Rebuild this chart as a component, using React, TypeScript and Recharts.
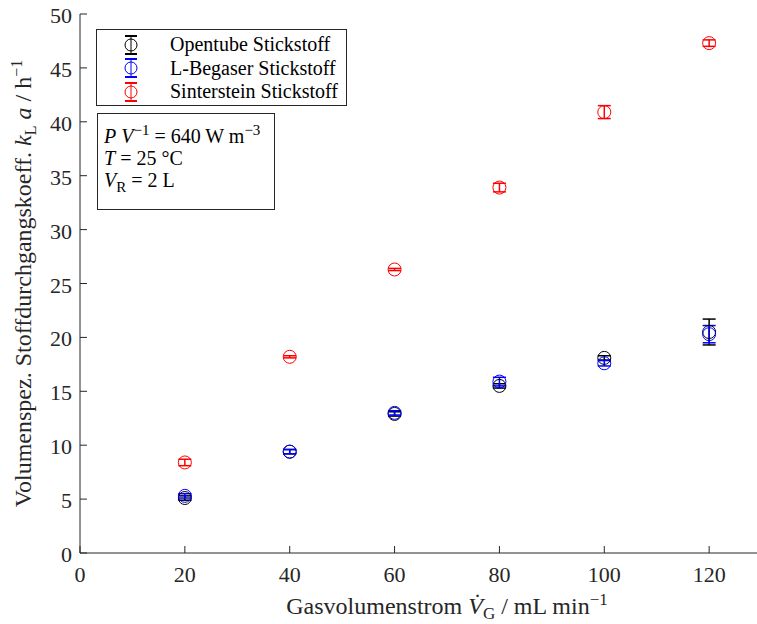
import { ScatterChart, Scatter, XAxis, YAxis, ErrorBar, Legend } from "recharts";

const flowRates = [20, 40, 60, 80, 100, 120];
const opentubeKla = [5.1, 9.4, 12.9, 15.5, 18.1, 20.5];
const opentubeErr = [0.2, 0.2, 0.2, 0.2, 0.2, 1.2];
const begaserKla = [5.3, 9.4, 13.0, 15.9, 17.6, 20.3];
const begaserErr = [0.2, 0.2, 0.2, 0.4, 0.25, 0.8];
const sinterKla = [8.4, 18.2, 26.3, 33.9, 40.9, 47.3];
const sinterErr = [0.3, 0.1, 0.1, 0.4, 0.6, 0.3];

// axis runs to 140, but the picture is cut at ~129 so the last tick is left out
const xTicks = [0, 20, 40, 60, 80, 100, 120];
const yTicks = [0, 5, 10, 15, 20, 25, 30, 35, 40, 45, 50];

const AXIS = "#262626";
const FONT = "'Liberation Serif', serif";

const series = [
  { name: "Opentube Stickstoff", color: "#000000", values: opentubeKla, errors: opentubeErr },
  { name: "L-Begaser Stickstoff", color: "#0000ff", values: begaserKla, errors: begaserErr },
  { name: "Sinterstein Stickstoff", color: "#ff0000", values: sinterKla, errors: sinterErr },
];

function BottomTick({ x, y, payload }: any) {
  return (
    <g>
      <line x1={x} x2={x} y1={y} y2={y - 7} stroke={AXIS} />
      <text x={x} y={y + 29} textAnchor="middle" fontFamily={FONT} fontSize={22} fill={AXIS}>
        {payload.value}
      </text>
    </g>
  );
}

function TopTick({ x, y }: any) {
  return <line x1={x} x2={x} y1={y} y2={y + 7} stroke={AXIS} />;
}

function LeftTick({ x, y, payload }: any) {
  return (
    <g>
      <line x1={x} x2={x + 7} y1={y} y2={y} stroke={AXIS} />
      <text x={x - 8} y={y + 9} textAnchor="end" fontFamily={FONT} fontSize={22} fill={AXIS}>
        {payload.value}
      </text>
    </g>
  );
}

function XLabel({ viewBox }: any) {
  const cx = viewBox.x + viewBox.width / 2;
  return (
    <text x={cx} y={viewBox.y + 61} textAnchor="middle" fontFamily={FONT} fontSize={24} fill={AXIS}>
      Gasvolumenstrom{" "}
      <tspan fontStyle="italic">{"V\u0307"}</tspan>
      <tspan fontSize={17} dy={5}>G</tspan>
      <tspan dy={-5}>{" / mL min"}</tspan>
      <tspan fontSize={17} dy={-9}>{"\u22121"}</tspan>
    </text>
  );
}

function YLabel({ viewBox }: any) {
  const x = viewBox.x + 31;
  const y = viewBox.y + viewBox.height / 2;
  return (
    <text
      x={x}
      y={y}
      transform={`rotate(-90, ${x}, ${y})`}
      textAnchor="middle"
      fontFamily={FONT}
      fontSize={24}
      fill={AXIS}
    >
      {"Volumenspez. Stoffdurchgangskoeff. "}
      <tspan fontStyle="italic">k</tspan>
      <tspan fontSize={16} dy={5}>L</tspan>
      <tspan dy={-5}> </tspan>
      <tspan fontStyle="italic">a</tspan>
      <tspan>{" / h"}</tspan>
      <tspan fontSize={16} dy={-9}>{"\u22121"}</tspan>
    </text>
  );
}

function LegendMarker({ color }: { color: string }) {
  return (
    <svg width={20} height={22} style={{ display: "block" }}>
      <line x1={10} x2={10} y1={2} y2={20} stroke={color} strokeWidth={1} />
      <line x1={4} x2={16} y1={2} y2={2} stroke={color} strokeWidth={2} />
      <line x1={4} x2={16} y1={20} y2={20} stroke={color} strokeWidth={2} />
      <circle cx={10} cy={11} r={6} fill="none" stroke={color} />
    </svg>
  );
}

function LegendBox() {
  return (
    <div
      style={{
        border: `1px solid ${AXIS}`,
        background: "#fff",
        width: 251,
        height: 77,
        boxSizing: "border-box",
        paddingTop: 3,
        fontFamily: FONT,
        fontSize: 20,
        lineHeight: "23px",
        color: "#000",
      }}
    >
      {series.map((s) => (
        <div key={s.name} style={{ display: "flex", alignItems: "center", height: 23.5 }}>
          <div style={{ marginLeft: 24 }}>
            <LegendMarker color={s.color} />
          </div>
          <span style={{ marginLeft: 29, whiteSpace: "nowrap" }}>{s.name}</span>
        </div>
      ))}
    </div>
  );
}

export default function App() {
  return (
    <div
      style={{
        position: "absolute",
        left: 0,
        top: 0,
        width: 757,
        height: 624,
        overflow: "hidden",
        background: "#fff",
      }}
    >
      <ScatterChart width={830} height={624} margin={{ top: 14, right: 16, bottom: 0, left: 0 }}>
        <XAxis
          type="number"
          dataKey="x"
          domain={[0, 140]}
          ticks={xTicks}
          interval={0}
          allowDataOverflow
          height={71}
          stroke={AXIS}
          tickLine={false}
          tickSize={0}
          tickMargin={0}
          tick={<BottomTick />}
          label={{ content: <XLabel /> }}
        />
        <XAxis
          xAxisId="top"
          orientation="top"
          type="number"
          dataKey="x"
          domain={[0, 140]}
          ticks={xTicks}
          interval={0}
          height={0}
          stroke={AXIS}
          tickLine={false}
          tickSize={0}
          tickMargin={0}
          tick={<TopTick />}
        />
        <YAxis
          type="number"
          dataKey="y"
          domain={[0, 50]}
          ticks={yTicks}
          interval={0}
          width={80}
          stroke={AXIS}
          tickLine={false}
          tickSize={0}
          tickMargin={0}
          tick={<LeftTick />}
          label={{ content: <YLabel /> }}
        />
        <Legend
          layout="vertical"
          align="center"
          verticalAlign="middle"
          wrapperStyle={{ left: 96, top: 29, width: 251, height: 77 }}
          content={<LegendBox />}
        />
        {series.map((s) => (
          <Scatter
            key={s.name}
            name={s.name}
            data={flowRates.map((x, i) => ({ x, y: s.values[i], err: s.errors[i] }))}
            fill={s.color}
            isAnimationActive={false}
            shape={(p: any) => <circle cx={p.cx} cy={p.cy} r={6.5} fill="none" stroke={s.color} strokeWidth={1} />}
          >
            <ErrorBar
              dataKey="err"
              direction="y"
              width={6.5}
              stroke={s.color}
              strokeWidth={1.5}
              isAnimationActive={false}
            />
          </Scatter>
        ))}
      </ScatterChart>
      <div
        style={{
          position: "absolute",
          left: 97,
          top: 113,
          width: 178,
          height: 97,
          boxSizing: "border-box",
          border: `1px solid ${AXIS}`,
          background: "#fff",
          fontFamily: FONT,
          fontSize: 20,
          lineHeight: "22px",
          paddingTop: 11,
          paddingLeft: 6,
          color: "#000",
        }}
      >
        <div>
          <i>P</i> <i>V</i>
          <sup style={{ fontSize: 15, lineHeight: 0 }}>{"\u22121"}</sup> = 640 W m
          <sup style={{ fontSize: 15, lineHeight: 0 }}>{"\u22123"}</sup>
        </div>
        <div>
          <i>T</i> = 25 °C
        </div>
        <div>
          <i>V</i>
          <sub style={{ fontSize: 15, lineHeight: 0 }}>R</sub> = 2 L
        </div>
      </div>
    </div>
  );
}
